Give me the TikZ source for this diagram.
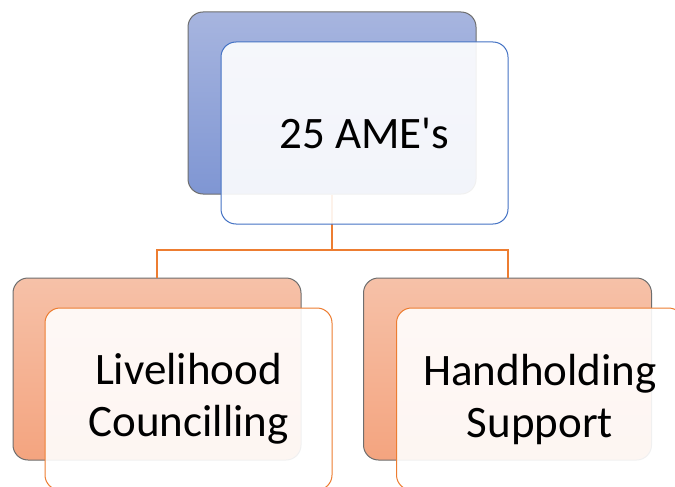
\documentclass[tikz,border=0pt]{standalone}
\usepackage{fontspec}
\setmainfont{Carlito}
\newfontfamily\carl{Carlito}
\definecolor{bluetop}{HTML}{A7B5DF}
\definecolor{bluebot}{HTML}{7F96D3}
\definecolor{blueedge}{HTML}{4472C4}
\definecolor{orangetop}{HTML}{F6C1A8}
\definecolor{orangebot}{HTML}{F4A47F}
\definecolor{orangeedge}{HTML}{ED7D31}
\definecolor{backedge}{HTML}{6E6E6E}
\tikzset{
  backbox/.style={rounded corners=15pt, minimum width=288pt, minimum height=182pt, inner sep=0pt, draw=backedge, line width=1pt},
  bluebackbox/.style={backbox, top color=bluetop, bottom color=bluebot},
  orangebackbox/.style={backbox, top color=orangetop, bottom color=orangebot},
  frontbox/.style={rounded corners=15pt, minimum width=287pt, minimum height=182pt, inner sep=0pt, line width=1pt, fill=white, fill opacity=0.9, draw opacity=1, text opacity=1, align=center, font=\carl\fontsize{45}{52}\selectfont},
  bluefrontbox/.style={frontbox, draw=blueedge},
  orangefrontbox/.style={frontbox, draw=orangeedge},
  link/.style={draw=orangeedge, line width=2pt}
}
\begin{document}
\begin{tikzpicture}[x=1pt,y=-1pt]
\useasboundingbox (0,0) rectangle (675,487);
\fill[white] (0,0) rectangle (675,487);
\node[bluebackbox] (topback) at (332,103) {};
\node[orangebackbox] (leftback) at (157,369) {};
\node[orangebackbox] (rightback) at (507.5,369) {};
\coordinate (junction) at (332,250);
\draw[link] (topback.south) -- (junction) -| (leftback.north);
\draw[link] (junction) -| (rightback.north);
\node[bluefrontbox] (topfront) at (364.5,133) {25 AME's};
\node[orangefrontbox] (leftfront) at (188.5,399) {Livelihood\\Councilling};
\node[orangefrontbox] (rightfront) at (540,399) {Handholding\\Support};
\end{tikzpicture}
\end{document}
